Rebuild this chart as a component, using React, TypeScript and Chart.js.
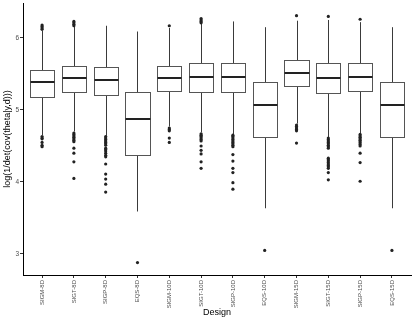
import { useEffect, useRef } from 'react';
import { Chart, registerables } from 'chart.js';

Chart.register(...registerables);

const designs = ['SIGM-8D', 'SIGT-8D', 'SIGP-8D', 'EQS-8D', 'SIGM-10D', 'SIGT-10D', 'SIGP-10D', 'EQS-10D', 'SIGM-15D', 'SIGT-15D', 'SIGP-15D', 'EQS-15D'];
const whiskerLow = [4.65, 4.70, 4.64, 3.59, 4.77, 4.69, 4.66, 3.635, 4.81, 4.62, 4.68, 3.635];
const q1 = [5.185, 5.245, 5.21, 4.37, 5.27, 5.255, 5.255, 4.62, 5.33, 5.23, 5.265, 4.62];
const median = [5.385, 5.44, 5.41, 4.875, 5.445, 5.46, 5.46, 5.065, 5.52, 5.45, 5.46, 5.065];
const q3 = [5.556, 5.615, 5.60, 5.25, 5.615, 5.65, 5.65, 5.39, 5.69, 5.65, 5.65, 5.39];
const whiskerHigh = [6.10, 6.16, 6.17, 6.09, 6.14, 6.20, 6.23, 6.15, 6.24, 6.25, 6.22, 6.15];
const outliers: number[][] = [
  [6.18, 6.16, 6.14, 6.12, 4.63, 4.61, 4.60, 4.55, 4.51, 4.49],
  [6.23, 6.21, 6.19, 6.17, 4.68, 4.66, 4.64, 4.62, 4.60, 4.58, 4.56, 4.47, 4.40, 4.28, 4.05],
  [4.63, 4.61, 4.59, 4.57, 4.55, 4.53, 4.51, 4.47, 4.45, 4.43, 4.40, 4.37, 4.35, 4.25, 4.11, 4.04, 3.97, 3.86],
  [2.88],
  [6.17, 4.75, 4.73, 4.71, 4.61, 4.55],
  [6.27, 6.25, 6.23, 6.21, 4.67, 4.65, 4.63, 4.61, 4.59, 4.57, 4.50, 4.44, 4.39, 4.28, 4.19],
  [4.65, 4.63, 4.61, 4.59, 4.57, 4.55, 4.53, 4.51, 4.49, 4.38, 4.29, 4.19, 4.13, 3.99, 3.90],
  [3.05],
  [6.31, 4.79, 4.77, 4.75, 4.73, 4.71, 4.54],
  [6.30, 4.61, 4.59, 4.57, 4.55, 4.53, 4.51, 4.49, 4.47, 4.33, 4.31, 4.29, 4.27, 4.25, 4.23, 4.21, 4.19, 4.13, 4.03],
  [6.26, 4.66, 4.64, 4.62, 4.60, 4.58, 4.56, 4.54, 4.52, 4.50, 4.40, 4.27, 4.01],
  [3.05],
];
const yTicks = [3, 4, 5, 6];
const yMin = 2.708;
const yMax = 6.486;
const boxWidth = 0.76;
const FONT = "'Liberation Sans', Arial, sans-serif";

export default function App() {
  const ref = useRef<HTMLCanvasElement>(null);

  useEffect(() => {
    document.body.style.margin = '0';
    const points: { x: number; y: number }[] = [];
    outliers.forEach((arr, i) => arr.forEach((v) => points.push({ x: i, y: v })));

    const boxPlugin = {
      id: 'boxes',
      beforeDatasetsDraw(chart: any) {
        const { ctx } = chart;
        const xs = chart.scales.x;
        const ys = chart.scales.y;
        ctx.save();
        designs.forEach((_, i) => {
          const cx = Math.round(xs.getPixelForValue(i)) + 0.5;
          const l = Math.round(xs.getPixelForValue(i - boxWidth / 2)) + 0.5;
          const r = Math.round(xs.getPixelForValue(i + boxWidth / 2)) + 0.5;
          const yq1 = Math.round(ys.getPixelForValue(q1[i])) + 0.5;
          const yq3 = Math.round(ys.getPixelForValue(q3[i])) + 0.5;
          const ymed = Math.round(ys.getPixelForValue(median[i]));
          const ywl = ys.getPixelForValue(whiskerLow[i]);
          const ywh = ys.getPixelForValue(whiskerHigh[i]);
          ctx.strokeStyle = '#3a3a3a';
          ctx.lineWidth = 1;
          ctx.beginPath();
          ctx.moveTo(cx, ywh);
          ctx.lineTo(cx, yq3);
          ctx.moveTo(cx, yq1);
          ctx.lineTo(cx, ywl);
          ctx.stroke();
          ctx.fillStyle = '#ffffff';
          ctx.fillRect(l, yq3, r - l, yq1 - yq3);
          ctx.strokeStyle = '#555555';
          ctx.strokeRect(l, yq3, r - l, yq1 - yq3);
          ctx.strokeStyle = '#222222';
          ctx.lineWidth = 2;
          ctx.beginPath();
          ctx.moveTo(l, ymed);
          ctx.lineTo(r, ymed);
          ctx.stroke();
        });
        ctx.restore();
      },
    };

    const chart = new Chart(ref.current as HTMLCanvasElement, {
      type: 'scatter',
      data: {
        datasets: [
          {
            data: points,
            pointRadius: 1.6,
            pointBackgroundColor: '#222222',
            pointBorderWidth: 0,
            pointHoverRadius: 1.6,
          },
        ],
      },
      options: {
        animation: false,
        responsive: false,
        devicePixelRatio: 1,
        events: [],
        layout: { padding: { top: 3, right: 4, left: 0, bottom: 0 } },
        plugins: { legend: { display: false }, tooltip: { enabled: false } },
        scales: {
          x: {
            type: 'linear',
            min: -0.6,
            max: designs.length - 0.4,
            afterBuildTicks: (axis: any) => {
              axis.ticks = designs.map((_, i) => ({ value: i }));
            },
            afterFit: (s: any) => {
              s.height = 48;
              s.paddingLeft = 0;
              s.paddingRight = 0;
              s.paddingTop = 0;
              s.paddingBottom = 0;
            },
            grid: { drawOnChartArea: false, drawTicks: true, tickLength: 3, color: '#333333', lineWidth: 1 },
            border: { display: true, color: '#000000', width: 1 },
            ticks: {
              autoSkip: false,
              minRotation: 90,
              maxRotation: 90,
              padding: 2,
              color: '#4d4d4d',
              font: { family: FONT, size: 6 },
              callback: (v: any) => designs[Math.round(Number(v))] ?? '',
            },
            title: {
              display: true,
              text: 'Design',
              color: '#000000',
              font: { family: FONT, size: 9 },
              padding: { top: 0, bottom: 5 },
            },
          },
          y: {
            type: 'linear',
            min: yMin,
            max: yMax,
            afterBuildTicks: (axis: any) => {
              axis.ticks = yTicks.map((v) => ({ value: v }));
            },
            afterFit: (s: any) => {
              s.width = 23;
              s.paddingLeft = 0;
              s.paddingRight = 0;
              s.paddingTop = 0;
              s.paddingBottom = 0;
            },
            grid: { drawOnChartArea: false, drawTicks: true, tickLength: 3, color: '#333333', lineWidth: 1 },
            border: { display: true, color: '#000000', width: 1 },
            ticks: {
              padding: 1,
              color: '#4d4d4d',
              font: { family: FONT, size: 6.5 },
              callback: (v: any) => String(v),
            },
            title: {
              display: true,
              text: 'log(1/det(cov(theta|y,d)))',
              color: '#000000',
              font: { family: FONT, size: 9 },
              padding: { top: 2, bottom: 0 },
            },
          },
        },
      },
      plugins: [boxPlugin],
    });
    return () => chart.destroy();
  }, []);

  return (
    <div style={{ width: 415, height: 323 }}>
      <canvas ref={ref} width={415} height={323} style={{ display: 'block' }} />
    </div>
  );
}
